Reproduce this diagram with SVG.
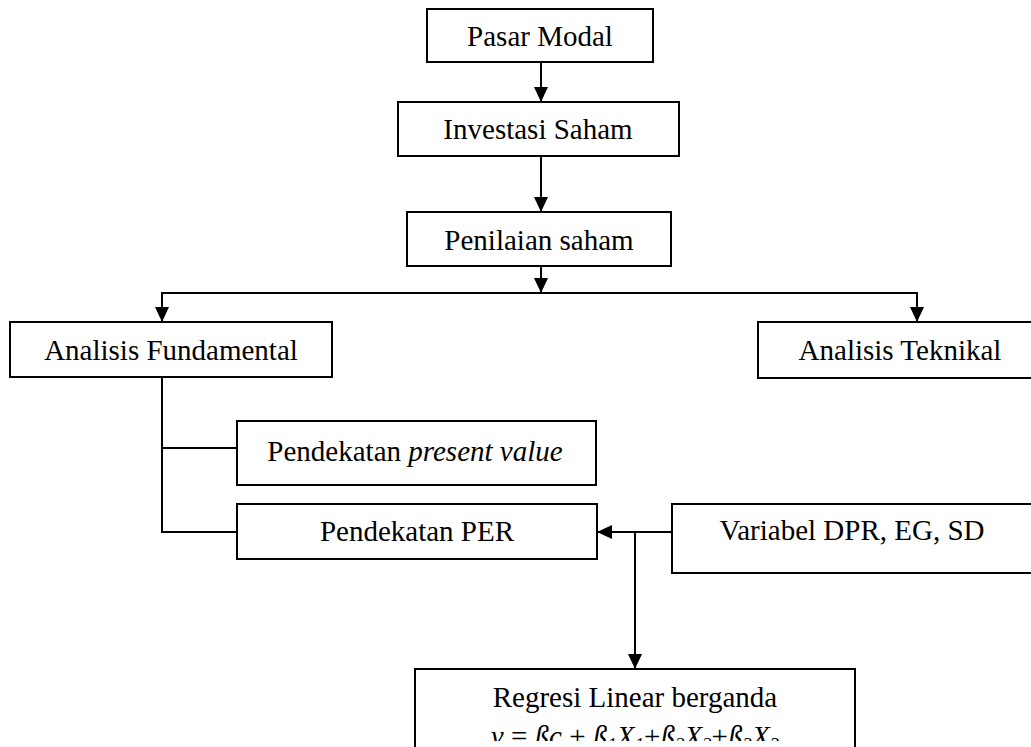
<svg xmlns="http://www.w3.org/2000/svg" width="1031" height="747" viewBox="0 0 1031 747">
<style>
.box{fill:#fff;stroke:#000;stroke-width:2}
.ln{fill:none;stroke:#000;stroke-width:2}
text{font-family:"Liberation Serif","Times New Roman",serif;font-size:29px;fill:#000;text-anchor:middle}
.it{font-style:italic}
.sub{font-size:19px;font-style:italic}
</style>
<defs>
<marker id="ah" viewBox="0 0 15 14" refX="15" refY="7" markerWidth="15" markerHeight="14" markerUnits="userSpaceOnUse" orient="auto">
<path d="M0,0 L15,7 L0,14 Z" fill="#000"/>
</marker>
<clipPath id="clipEq"><rect x="0" y="0" width="1031" height="741"/></clipPath>
</defs>
<rect width="1031" height="747" fill="#fff"/>
<g id="connectors">
<line class="ln" x1="541" y1="62" x2="541" y2="102" marker-end="url(#ah)"/>
<line class="ln" x1="541" y1="156" x2="541" y2="212" marker-end="url(#ah)"/>
<line class="ln" x1="541" y1="266" x2="541" y2="293" marker-end="url(#ah)"/>
<polyline class="ln" points="162,322 162,293 917,293 917,322"/>
<line class="ln" x1="162" y1="300" x2="162" y2="322" marker-end="url(#ah)"/>
<line class="ln" x1="917" y1="300" x2="917" y2="322" marker-end="url(#ah)"/>
<polyline class="ln" points="162,377 162,532 237,532"/>
<line class="ln" x1="162" y1="448" x2="237" y2="448"/>
<line class="ln" x1="672" y1="532" x2="597" y2="532" marker-end="url(#ah)"/>
<line class="ln" x1="635" y1="532" x2="635" y2="669" marker-end="url(#ah)"/>
</g>
<g id="pasar-modal">
<rect class="box" x="427" y="9" width="226" height="53"/>
<text x="540" y="46">Pasar Modal</text>
</g>
<g id="investasi-saham">
<rect class="box" x="398" y="102" width="281" height="54"/>
<text x="538" y="139">Investasi Saham</text>
</g>
<g id="penilaian-saham">
<rect class="box" x="407" y="212" width="264" height="54"/>
<text x="539" y="250">Penilaian saham</text>
</g>
<g id="analisis-fundamental">
<rect class="box" x="10" y="322" width="322" height="55"/>
<text x="171" y="360">Analisis Fundamental</text>
</g>
<g id="analisis-teknikal">
<rect class="box" x="758" y="322" width="290" height="56"/>
<text x="900" y="360">Analisis Teknikal</text>
</g>
<g id="pendekatan-present-value">
<rect class="box" x="237" y="421" width="359" height="64"/>
<text x="415" y="461">Pendekatan <tspan class="it">present value</tspan></text>
</g>
<g id="pendekatan-per">
<rect class="box" x="237" y="504" width="360" height="55"/>
<text x="417" y="541">Pendekatan PER</text>
</g>
<g id="variabel">
<rect class="box" x="672" y="504" width="370" height="69"/>
<text x="852" y="540">Variabel DPR, EG, SD</text>
</g>
<g id="regresi">
<rect class="box" x="415" y="669" width="440" height="100"/>
<text x="635" y="707">Regresi Linear berganda</text>
<text x="635" y="746" clip-path="url(#clipEq)"><tspan class="it">y</tspan> = <tspan class="it">ßc</tspan> + <tspan class="it">ß</tspan><tspan class="sub" dy="5">1</tspan><tspan class="it" dy="-5">X</tspan><tspan class="sub" dy="5">1</tspan><tspan dy="-5">+</tspan><tspan class="it">ß</tspan><tspan class="sub" dy="5">2</tspan><tspan class="it" dy="-5">X</tspan><tspan class="sub" dy="5">2</tspan><tspan dy="-5">+</tspan><tspan class="it">ß</tspan><tspan class="sub" dy="5">3</tspan><tspan class="it" dy="-5">X</tspan><tspan class="sub" dy="5">3</tspan></text>
</g>
</svg>
